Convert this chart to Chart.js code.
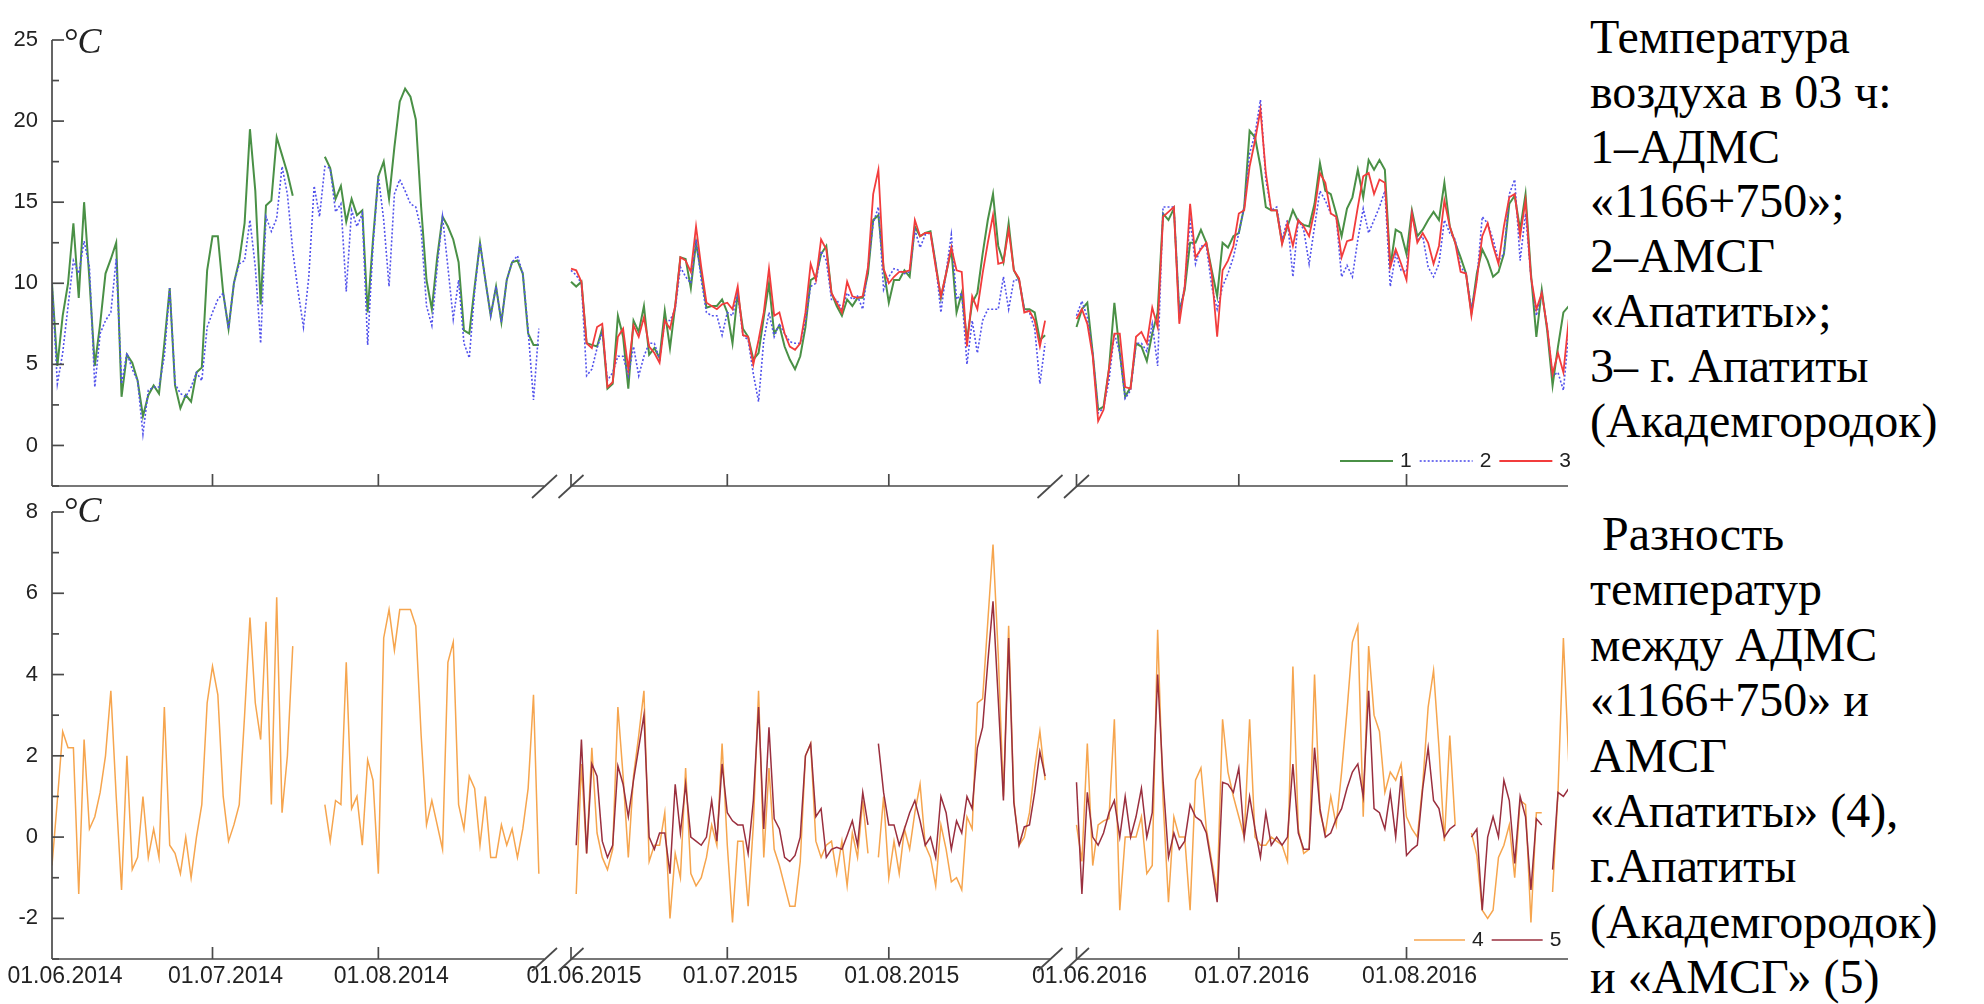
<!DOCTYPE html>
<html><head><meta charset="utf-8">
<script src="https://cdn.jsdelivr.net/npm/chart.js@4.4.0/dist/chart.umd.min.js"></script>
<style>
html,body{margin:0;padding:0;background:#fff;width:1984px;height:1004px;overflow:hidden;}
canvas{position:absolute;left:0;}
#top{top:0;}
#bot{top:490px;}
.txt{position:absolute;left:1590px;font-family:"Liberation Serif","Times New Roman",serif;font-size:48px;color:#000;white-space:pre;}
.deg{position:absolute;font-family:"Liberation Serif","Times New Roman",serif;font-style:italic;font-size:36px;line-height:36px;color:#222;}
</style></head><body>
<canvas id="top" width="1580" height="500"></canvas>
<canvas id="bot" width="1580" height="514"></canvas>
<div class="deg" style="left:63px;top:23px">°C</div>
<div class="deg" style="left:63px;top:492px">°C</div>
<div class="txt" style="top:10px;line-height:54.8px">Температура
воздуха в 03 ч:
1–АДМС
«1166+750»;
2–АМСГ
«Апатиты»;
3– г. Апатиты
(Академгородок)</div>
<div class="txt" style="top:506px;line-height:55.4px"> Разность
температур
между АДМС
«1166+750» и
АМСГ
«Апатиты» (4),
г.Апатиты
(Академгородок)
и «АМСГ» (5)</div>
<script>
// ---------------- data (daily values, 1 June .. 31 August of each summer) ----------------
const N = null;
const SUMMERS = ['2014', '2015', '2016'];
const TICK_DAYS = [0, 30, 61];
const TICK_LABELS = ['01.06.2014','01.07.2014','01.08.2014','01.06.2015','01.07.2015','01.08.2015','01.06.2016','01.07.2016','01.08.2016'];
const TOP_NAMES = ['1', '2', '3'];
const BOTTOM_NAMES = ['4', '5'];

// 1 – АДМС «1166+750»
const T1_2014 = [10.0,4.9,8.0,10.0,13.7,9.1,15.0,10.2,4.9,7.5,
 10.6,11.5,12.5,3.0,5.6,5.1,4.0,1.8,3.1,3.7,
 3.2,6.3,9.7,3.7,2.3,3.1,2.7,4.5,4.8,10.8,
 12.9,12.9,9.4,7.2,10.0,11.4,13.7,19.5,15.7,8.7,
 14.8,15.1,19.0,17.9,16.8,15.4,N,N,N,N,
 N,17.8,17.1,15.2,16.0,13.8,15.2,14.2,14.5,8.2,
 12.7,16.6,17.5,15.2,18.4,21.2,22.0,21.5,20.1,14.7,
 10.2,8.4,11.6,14.1,13.5,12.7,11.3,7.1,6.9,9.8,
 12.5,10.2,8.0,9.8,7.6,10.2,11.3,11.4,10.6,6.9,
 6.2,6.2];
const T1_2015 = [10.1,9.8,10.1,6.3,6.2,6.1,7.2,3.5,3.8,8.0,
 6.7,3.5,7.7,7.0,8.6,5.6,6.0,5.4,8.3,6.0,
 8.6,11.6,11.5,9.7,12.5,10.6,8.5,8.6,8.6,9.0,
 8.2,6.3,9.4,7.2,6.7,5.3,5.7,7.9,10.0,6.9,
 7.4,6.1,5.3,4.7,5.5,7.3,10.2,10.4,11.8,12.3,
 9.4,8.6,8.0,9.0,8.6,9.1,9.1,10.6,13.9,14.2,
 10.9,8.8,10.2,10.2,10.8,10.4,13.5,12.9,13.1,13.2,
 11.2,9.1,10.6,12.1,8.2,9.4,6.5,8.8,9.4,11.8,
 13.9,15.5,12.3,11.3,13.7,10.8,10.2,8.4,8.4,8.2,
 6.5,6.8];
const T1_2016 = [7.3,8.4,8.8,5.7,2.2,2.4,4.7,8.8,5.7,3.0,
 3.6,6.3,6.1,5.2,6.9,8.2,14.3,13.9,14.6,8.2,
 9.6,12.5,12.5,13.3,12.5,10.8,9.2,12.5,12.2,12.9,
 13.1,14.7,19.4,19.0,17.2,14.7,14.5,14.5,12.5,13.5,
 14.5,13.8,13.6,13.5,14.9,17.4,15.7,15.5,14.3,12.9,
 14.6,15.3,17.0,15.3,17.6,17.0,17.6,17.0,11.0,13.3,
 13.1,11.8,14.5,12.9,13.3,13.9,14.4,13.9,16.2,13.5,
 12.5,11.6,10.6,8.2,10.6,12.1,11.4,10.4,10.7,11.8,
 14.9,15.4,13.3,15.5,10.6,6.7,9.6,7.1,3.7,6.1,
 8.2,8.6];
// 2 – АМСГ «Апатиты»
const T2_2014 = [10.0,3.8,5.7,8.6,11.4,10.6,12.6,11.0,3.6,6.9,
 7.7,8.2,11.5,3.8,5.7,4.7,4.0,0.7,3.4,3.6,
 3.6,5.5,9.7,3.8,3.2,3.0,3.6,4.5,4.0,7.3,
 8.2,9.0,9.4,7.2,10.0,11.2,11.4,13.9,11.0,6.3,
 14.1,13.2,14.0,17.2,15.5,12.0,9.5,7.3,10.4,16.0,
 14.1,17.2,17.1,14.4,14.9,9.5,14.5,13.5,14.3,6.2,
 12.3,16.6,13.9,9.8,15.5,16.4,15.7,14.9,14.7,13.3,
 8.6,7.4,11.0,14.1,11.0,7.8,10.2,6.3,5.4,9.5,
 12.5,10.2,8.0,9.8,7.6,10.2,11.3,11.7,10.6,7.1,
 2.8,7.2];
const T2_2015 = [10.8,10.5,10.0,4.3,4.7,6.0,7.0,4.0,4.5,5.5,
 5.5,4.3,6.1,4.3,5.5,6.3,6.3,5.3,7.7,7.7,
 8.4,11.0,10.4,10.0,12.7,10.2,8.2,8.0,8.0,6.8,
 8.2,8.0,9.4,6.8,6.5,4.4,2.7,6.5,8.2,6.7,
 7.5,6.9,6.4,6.3,6.3,7.7,9.8,10.0,12.0,11.4,
 9.0,9.0,8.4,9.4,9.0,9.2,8.4,11.0,13.7,14.7,
 9.6,10.4,10.9,10.8,10.6,10.7,13.3,12.2,13.0,13.1,
 11.2,8.2,10.7,13.0,9.0,9.4,5.0,7.7,5.7,7.7,
 8.4,8.4,8.4,10.4,8.4,10.2,10.2,8.4,8.2,7.2,
 3.8,6.3];
const T2_2016 = [8.0,8.9,7.9,5.7,2.0,2.3,4.0,6.9,5.7,2.9,
 3.4,6.3,6.3,5.8,7.5,4.9,14.7,14.7,14.7,8.2,
 9.8,13.9,11.2,12.3,12.3,9.8,8.4,9.8,10.6,11.6,
 13.1,14.7,18.0,19.2,21.3,16.4,14.5,14.7,12.7,13.9,
 10.4,13.9,13.3,11.2,13.5,15.7,15.1,14.3,14.1,10.4,
 11.1,10.4,12.7,14.6,13.1,13.9,14.7,15.7,9.8,11.8,
 10.8,10.7,14.3,12.7,12.9,11.0,10.4,11.2,13.9,13.1,
 12.7,11.0,10.6,8.4,10.2,14.1,13.7,12.7,11.4,11.8,
 15.5,16.4,11.4,14.3,10.4,8.0,9.4,7.3,4.3,4.5,
 3.4,7.0];
// 3 – г. Апатиты (Академгородок)
const T3_2015 = [10.9,10.8,10.1,6.3,6.0,7.3,7.5,3.6,3.9,6.7,
 7.2,4.7,7.4,6.7,7.9,6.1,5.7,5.1,7.7,7.2,
 8.6,11.6,11.4,10.7,13.5,11.0,8.8,8.6,8.4,8.7,
 8.8,8.4,9.8,6.8,6.7,5.0,6.5,8.2,10.9,8.0,
 8.2,6.9,6.1,5.9,6.3,8.2,11.2,10.2,12.7,12.1,
 9.4,8.8,8.2,10.1,9.2,9.1,9.2,11.0,15.5,17.0,
 10.9,10.0,10.4,10.7,10.7,10.8,13.9,12.9,13.1,13.1,
 11.0,9.2,10.6,12.2,10.8,10.7,6.1,9.2,8.4,10.6,
 12.5,14.2,11.2,11.3,13.3,10.8,10.3,8.2,8.3,7.7,
 6.1,7.7];
const T3_2016 = [7.8,8.4,7.5,5.5,1.5,2.2,4.7,6.9,6.9,3.6,
 3.5,6.7,7.0,6.3,8.5,7.3,14.1,14.4,14.7,7.5,
 9.8,14.9,11.6,12.1,12.5,10.6,6.7,10.8,11.4,12.3,
 14.3,14.5,17.2,18.8,20.7,16.8,14.5,14.5,12.4,13.7,
 12.3,13.9,13.5,12.9,14.5,16.8,16.2,14.3,14.1,11.6,
 12.6,12.7,14.7,16.6,16.8,15.5,16.4,16.2,11.0,12.1,
 11.2,10.2,14.3,12.5,13.1,12.5,11.2,12.3,15.1,13.5,
 12.5,10.7,10.6,8.0,10.2,12.9,13.7,12.3,11.2,13.5,
 15.3,15.5,12.9,15.1,10.4,8.4,9.4,7.3,4.4,5.7,
 4.5,7.8];
// 4 – difference АДМС – АМСГ
const D4_2014 = [-0.7,0.9,2.6,2.2,2.2,-1.4,2.4,0.2,0.5,1.1,
 2.0,3.6,1.0,-1.3,2.0,-0.8,-0.5,1.0,-0.5,0.2,
 -0.5,3.2,-0.2,-0.4,-0.9,0.0,-1.0,0.0,0.8,3.3,
 4.2,3.5,1.0,-0.1,0.3,0.8,3.0,5.4,3.3,2.4,
 5.3,0.8,5.9,0.6,2.0,4.7,N,N,N,N,
 N,0.8,-0.1,0.9,0.8,4.3,0.7,1.0,-0.2,1.9,
 1.4,-0.9,4.9,5.6,4.6,5.6,5.6,5.6,5.2,2.5,
 0.3,0.9,0.3,-0.3,4.3,4.8,0.8,0.2,1.5,1.2,
 -0.2,1.0,-0.5,-0.5,0.3,-0.2,0.2,-0.5,0.2,1.2,
 3.5,-0.9];
const D4_2015 = [N,-1.4,1.8,-0.4,2.2,0.1,-0.5,-0.8,-0.3,3.2,
 1.5,-0.5,1.5,2.5,3.6,-0.6,-0.2,-0.2,0.6,-2.0,
 -0.4,-1.0,1.7,-0.9,-1.2,-1.0,-0.5,0.3,-0.2,2.3,
 -0.2,-2.1,-0.1,-0.1,-1.7,0.3,3.6,-0.5,1.7,-0.3,
 -0.7,-1.2,-1.7,-1.7,-0.6,2.0,2.3,-0.1,-0.5,-0.2,
 -0.1,-0.9,-0.1,-1.2,0.1,-0.5,0.9,-0.4,N,-0.5,
 1.0,-1.0,-0.1,-0.9,0.2,-0.3,0.6,1.3,-0.2,-0.5,
 -1.2,0.3,-0.3,-1.1,-1.0,-1.3,0.5,0.2,3.3,3.4,
 5.3,7.2,4.5,1.0,5.2,0.9,-0.2,0.0,0.6,1.7,
 2.6,1.4];
const D4_2016 = [0.3,-0.6,2.3,-0.7,0.3,0.4,0.45,2.9,-1.8,0.0,
 0.0,0.0,0.5,-0.9,-0.7,5.1,0.9,-1.6,0.5,0.0,
 0.0,-1.8,1.4,1.7,0.2,-0.6,-1.35,2.9,1.6,1.0,
 0.5,0.0,2.9,0.0,-0.2,-0.2,0.0,-0.1,-0.2,-0.6,
 4.2,0.2,-0.4,-0.3,4.0,0.6,0.1,1.0,0.3,1.6,
 3.1,4.8,5.2,0.5,4.7,3.0,2.6,1.1,1.6,1.4,
 1.8,0.5,0.2,0.0,1.3,3.2,4.1,2.2,-0.1,2.5,
 0.3,N,N,0.1,-0.45,-1.8,-2.0,-1.8,-0.5,-0.2,
 0.3,-1.0,0.9,0.8,-2.1,0.6,0.6,N,-1.35,1.1,
 4.9,1.8];
// 5 – difference Академгородок – АМСГ
const D5_2015 = [N,-0.2,2.4,-0.4,1.8,1.5,-0.1,-0.5,-0.2,1.75,
 1.3,0.5,1.4,2.2,3.0,0.0,-0.3,0.1,0.1,-0.9,
 1.3,0.1,1.3,0.0,-0.1,-0.2,0.0,0.9,-0.1,1.8,
 0.6,0.4,0.3,0.3,-0.4,0.9,3.2,0.2,2.7,0.45,
 0.2,-0.5,-0.6,-0.45,0.0,2.0,2.3,0.5,0.7,-0.5,
 -0.3,-0.25,-0.3,0.04,0.4,-0.2,1.1,0.3,N,2.3,
 1.1,0.3,0.3,-0.2,0.2,0.6,0.9,0.4,-0.2,0.0,
 -0.5,1.0,0.6,-0.3,0.4,0.1,1.0,0.7,2.2,2.7,
 4.3,5.8,3.4,0.9,4.9,0.85,-0.2,0.25,0.3,1.1,
 2.1,1.5];
const D5_2016 = [1.35,-1.4,1.1,0.0,-0.2,0.1,0.6,0.9,0.0,1.0,
 0.0,0.5,1.2,0.0,0.6,4.0,1.4,-0.5,0.1,-0.3,
 -0.1,0.8,0.5,0.4,0.1,-0.7,-1.6,1.35,1.3,1.1,
 1.7,0.0,1.0,0.2,-0.5,0.6,-0.2,0.0,-0.2,0.0,
 1.8,0.1,-0.3,-0.3,2.2,0.7,0.0,0.1,0.45,0.7,
 1.2,1.6,1.8,1.0,3.6,0.7,0.6,0.2,1.1,0.0,
 1.5,-0.45,-0.3,-0.2,1.2,2.2,0.9,0.7,0.0,0.2,
 0.3,N,N,0.0,0.2,-1.8,0.0,0.5,0.0,1.4,
 0.9,-0.65,1.0,0.5,-1.3,0.45,0.3,N,-0.8,1.1,
 1.0,1.2];

// ---------------- layout of the broken time axis (axis units) ----------------
const SEG_START = [0, 519, 1024.5];   // where each summer begins on the broken axis
const SEG_DAY_W = [5.35, 5.21, 5.41]; // axis units per day in each summer block
const X_SPAN = 1516;
const BREAK_GAP = 26.5;

const TICK_POS = [];
SEG_START.forEach((s0, s) => TICK_DAYS.forEach(d => TICK_POS.push(s0 + d * SEG_DAY_W[s])));

function series(perSummer) {
  const pts = [];
  perSummer.forEach((arr, s) => {
    if (!arr) return;
    arr.forEach((v, d) => pts.push({ x: SEG_START[s] + d * SEG_DAY_W[s], y: v }));
    pts.push({ x: SEG_START[s] + 91.5 * SEG_DAY_W[s], y: null });
  });
  return pts;
}

const axisPlugin = {
  id: 'brokenAxes',
  afterDraw(chart, args, o) {
    const ctx = chart.ctx, a = chart.chartArea, xs = chart.scales.x, ys = chart.scales.y;
    const px = v => xs.getPixelForValue(v);
    const seg = (x1, y1, x2, y2) => { ctx.beginPath(); ctx.moveTo(x1, y1); ctx.lineTo(x2, y2); ctx.stroke(); };
    ctx.save();
    ctx.strokeStyle = '#4a4a4a'; ctx.lineWidth = 1.7;
    const xL = a.left, yB = a.bottom;
    seg(xL, a.top, xL, yB);
    ys.ticks.forEach(t => {
      const y = ys.getPixelForValue(t.value);
      const major = Math.abs(t.value % o.majorStep) < 1e-9 && t.value >= o.firstMajor;
      seg(xL, y, xL + (major ? 12 : 7), y);
    });
    const pieces = [[0, SEG_START[1] - BREAK_GAP], [SEG_START[1], SEG_START[2] - BREAK_GAP], [SEG_START[2], X_SPAN]];
    pieces.forEach(([u, v]) => seg(px(u), yB, px(v), yB));
    [1, 2].forEach(s => {
      [SEG_START[s] - BREAK_GAP, SEG_START[s]].forEach(c => { const cx = px(c); seg(cx - 12.5, yB + 12, cx + 12.5, yB - 11); });
    });
    TICK_POS.forEach((p, i) => { if (i === 0) return; const x = px(p); seg(x, yB, x, yB - 12); });
    ctx.restore();
  }
};

const keyPlugin = {
  id: 'seriesKey',
  afterDraw(chart, args, o) {
    const ctx = chart.ctx;
    ctx.save();
    ctx.font = '21px "Liberation Sans", Arial, sans-serif';
    ctx.fillStyle = '#222'; ctx.textBaseline = 'middle';
    let x = o.x;
    chart.data.datasets.forEach(ds => {
      ctx.strokeStyle = ds.borderColor; ctx.lineWidth = ds.borderWidth;
      ctx.setLineDash(ds.borderDash || []);
      ctx.beginPath(); ctx.moveTo(x, o.y); ctx.lineTo(x + o.len, o.y); ctx.stroke();
      ctx.setLineDash([]);
      x += o.len + 7;
      ctx.fillText(ds.label, x, o.y);
      x += ctx.measureText(ds.label).width + 8;
    });
    ctx.restore();
  }
};

const TICK_FONT = { family: '"Liberation Sans", Arial, sans-serif', size: 22 };

function options(cfg) {
  return {
    responsive: false, animation: false, devicePixelRatio: 1,
    layout: { autoPadding: false, padding: { left: 0, right: 12, top: cfg.padTop, bottom: 0 } },
    elements: { point: { radius: 0 }, line: { tension: 0 } },
    plugins: {
      legend: { display: false }, tooltip: { enabled: false },
      brokenAxes: { majorStep: cfg.majorStep, firstMajor: cfg.firstMajor },
      seriesKey: cfg.key
    },
    scales: {
      x: {
        type: 'linear', min: 0, max: X_SPAN,
        grid: { display: false, drawTicks: false }, border: { display: false },
        afterBuildTicks: sc => { sc.ticks = TICK_POS.map(v => ({ value: v })); },
        afterFit: sc => { sc.height = cfg.xHeight; sc.paddingLeft = 0; sc.paddingRight = 0; },
        ticks: {
          display: cfg.xLabels, autoSkip: false, maxRotation: 0, minRotation: 0,
          labelOffset: 13, padding: 4, color: '#222',
          font: { family: '"Liberation Sans", Arial, sans-serif', size: 23 },
          callback: (v, i) => TICK_LABELS[i]
        }
      },
      y: {
        min: cfg.yMin, max: cfg.yMax,
        grid: { display: false, drawTicks: false }, border: { display: false },
        afterFit: sc => { sc.width = 52; sc.paddingTop = 0; sc.paddingBottom = 0; },
        ticks: {
          stepSize: cfg.step, padding: 14, color: '#222', font: TICK_FONT,
          callback: v => (Math.abs(v % cfg.majorStep) < 1e-9 && v >= cfg.firstMajor) ? String(v) : ''
        }
      }
    }
  };
}

new Chart(document.getElementById('top'), {
  type: 'line',
  data: {
    datasets: [
      { label: TOP_NAMES[0], data: series([T1_2014, T1_2015, T1_2016]), borderColor: '#4a9046', borderWidth: 2, order: 2, spanGaps: false },
      { label: TOP_NAMES[1], data: series([T2_2014, T2_2015, T2_2016]), borderColor: '#5252ec', borderWidth: 1.6, borderDash: [2, 2], order: 1, spanGaps: false },
      { label: TOP_NAMES[2], data: series([null, T3_2015, T3_2016]), borderColor: '#f23c3c', borderWidth: 1.8, order: 0, spanGaps: false }
    ]
  },
  options: options({ padTop: 40, xHeight: 14, xLabels: false, yMin: -2.5, yMax: 25, step: 2.5, majorStep: 5, firstMajor: 0,
    key: { x: 1340, y: 461, len: 53 } }),
  plugins: [axisPlugin, keyPlugin]
});

new Chart(document.getElementById('bot'), {
  type: 'line',
  data: {
    datasets: [
      { label: BOTTOM_NAMES[0], data: series([D4_2014, D4_2015, D4_2016]), borderColor: '#f6a54e', borderWidth: 1.5, order: 1, spanGaps: false },
      { label: BOTTOM_NAMES[1], data: series([null, D5_2015, D5_2016]), borderColor: '#9a2f3e', borderWidth: 1.5, order: 0, spanGaps: false }
    ]
  },
  options: options({ padTop: 22, xHeight: 45, xLabels: true, yMin: -3, yMax: 8, step: 1, majorStep: 2, firstMajor: -2,
    key: { x: 1414, y: 450, len: 51 } }),
  plugins: [axisPlugin, keyPlugin]
});
</script>
</body></html>
